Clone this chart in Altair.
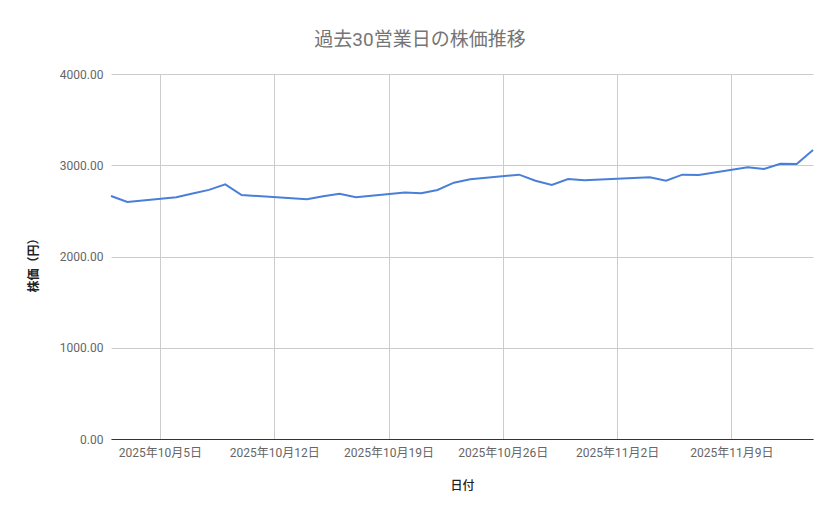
import altair as alt
import pandas as pd

# 30 business days (Oct 13 and Nov 3 are holidays)
dates = [
    "2025-10-02", "2025-10-03", "2025-10-06", "2025-10-07", "2025-10-08",
    "2025-10-09", "2025-10-10", "2025-10-14", "2025-10-15", "2025-10-16",
    "2025-10-17", "2025-10-20", "2025-10-21", "2025-10-22", "2025-10-23",
    "2025-10-24", "2025-10-27", "2025-10-28", "2025-10-29", "2025-10-30",
    "2025-10-31", "2025-11-04", "2025-11-05", "2025-11-06", "2025-11-07",
    "2025-11-10", "2025-11-11", "2025-11-12", "2025-11-13", "2025-11-14",
]
prices = [
    2663, 2597, 2650, 2690, 2730,
    2790, 2674, 2627, 2660, 2688,
    2649, 2700, 2693, 2729, 2809,
    2846, 2897, 2831, 2784, 2850,
    2835, 2868, 2831, 2897, 2893,
    2978, 2959, 3017, 3014, 3167,
]
tick_dates = ["2025-10-05", "2025-10-12", "2025-10-19", "2025-10-26", "2025-11-02", "2025-11-09"]
y_ticks = [0, 1000, 2000, 3000, 4000]

df = pd.DataFrame({"日付": pd.to_datetime(dates), "株価": prices})


def dt(s):
    d = pd.Timestamp(s)
    return alt.DateTime(year=d.year, month=d.month, date=d.day)


font = "Roboto, 'Noto Sans CJK JP', sans-serif"

chart = alt.Chart(df).mark_line(color="#4a7fd8", strokeWidth=2).encode(
    x=alt.X(
        "日付:T",
        title="日付",
        scale=alt.Scale(domain=[dt("2025-10-02"), dt("2025-11-14")]),
        axis=alt.Axis(
            values=[dt(s) for s in tick_dates],
            format="%Y年%-m月%-d日",
            labelColor="#666666",
            labelFontSize=12,
            labelPadding=8,
            ticks=False,
            domainColor="#333333",
            gridColor="#cccccc",
            titleFontSize=12,
            titleFontWeight=500,
            titleColor="#222222",
            titleY=46,
            titleBaseline="middle",
        ),
    ),
    y=alt.Y(
        "株価:Q",
        title="株価（円）",
        scale=alt.Scale(domain=[0, 4000], nice=False),
        axis=alt.Axis(
            values=y_ticks,
            format=".2f",
            labelColor="#666666",
            labelFontSize=12,
            labelPadding=8,
            ticks=False,
            domain=False,
            gridColor="#cccccc",
            titleFontSize=12,
            titleFontWeight="bold",
            titleColor="#222222",
            titleX=-78,
            titleY=188,
            titleAngle=-90,
            titleBaseline="middle",
        ),
    ),
).properties(
    width=702,
    height=365,
    autosize=alt.AutoSizeParams(type="none"),
    padding={"left": 103, "top": 66, "right": 18, "bottom": 72},
    title=alt.TitleParams(
        "過去30営業日の株価推移",
        fontSize=19,
        fontWeight="normal",
        color="#757575",
        anchor="middle",
        dx=-42,
        offset=18,
    ),
).configure(
    font=font,
).configure_view(
    stroke=None,
)

chart.save("out.html", embed_options={"renderer": "svg", "actions": False})
